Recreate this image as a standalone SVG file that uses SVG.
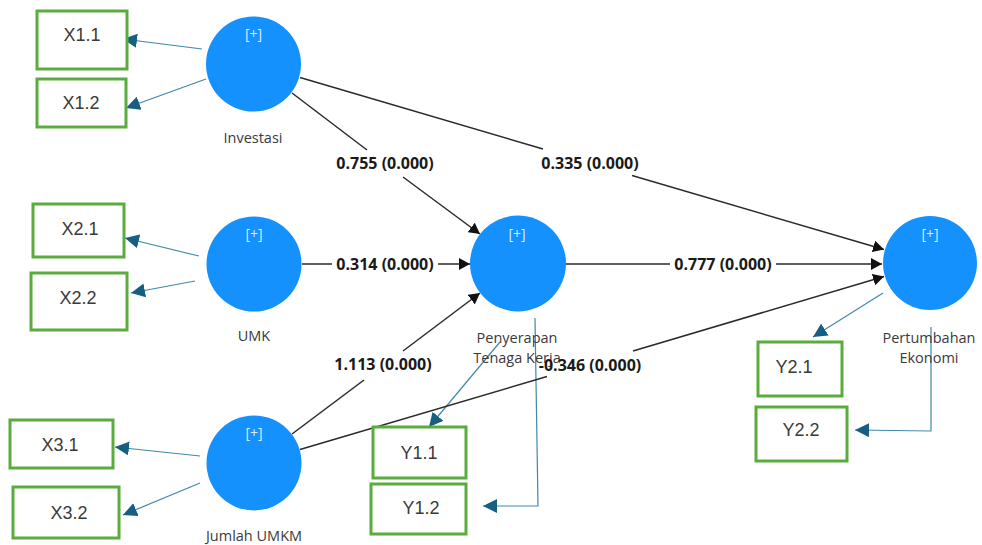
<svg xmlns="http://www.w3.org/2000/svg" width="982" height="545" viewBox="0 0 982 545">
<defs>
<style>
.box{fill:#fff;stroke:#5aac3c;stroke-width:3}
.bt{font-family:"Liberation Sans",Arial,sans-serif;font-size:18px;fill:#3a3a3a;text-anchor:middle;dominant-baseline:central}
.lv{fill:#1591fd}
.plus{font-family:"Open Sans","Liberation Sans",sans-serif;font-size:14px;fill:#dcecff;text-anchor:middle;dominant-baseline:central}
.nl{font-family:"Open Sans","Liberation Sans",sans-serif;font-size:14.5px;fill:#3a3a3a;text-anchor:middle;dominant-baseline:central}
.ind{stroke:#3f88aa;stroke-width:1.2;fill:none}
.str{stroke:#2a2a2a;stroke-width:1.5;fill:none}
.pl{font-family:"Open Sans","Liberation Sans",sans-serif;font-size:16px;font-weight:700;fill:#1a1a1a;text-anchor:middle;dominant-baseline:central}
</style>
<marker id="ai" markerUnits="userSpaceOnUse" markerWidth="15" markerHeight="14" refX="14" refY="7" orient="auto">
<path d="M0,0 L14,7 L0,14 z" fill="#175f82"/>
</marker>
<marker id="as" markerUnits="userSpaceOnUse" markerWidth="12" markerHeight="12" refX="11" refY="6" orient="auto">
<path d="M0,0 L11,6 L0,12 z" fill="#111"/>
</marker>
</defs>
<rect width="982" height="545" fill="#fff"/>

<g id="connectors">
<line class="ind" x1="202" y1="49" x2="123" y2="39" marker-end="url(#ai)"/>
<line class="ind" x1="206" y1="79" x2="126" y2="108" marker-end="url(#ai)"/>
<line class="ind" x1="199" y1="256" x2="125" y2="238" marker-end="url(#ai)"/>
<line class="ind" x1="195" y1="281" x2="131" y2="293" marker-end="url(#ai)"/>
<line class="ind" x1="200" y1="456" x2="115" y2="447" marker-end="url(#ai)"/>
<line class="ind" x1="200" y1="483" x2="123" y2="515" marker-end="url(#ai)"/>
<line class="ind" x1="500" y1="342" x2="429" y2="427" marker-end="url(#ai)"/>
<polyline class="ind" points="535,318 538,506 483,506" marker-end="url(#ai)"/>
<line class="ind" x1="883" y1="293" x2="813" y2="337" marker-end="url(#ai)"/>
<polyline class="ind" points="931,327 931,431 855,430" marker-end="url(#ai)"/>
<line class="str" x1="292" y1="93" x2="367" y2="150"/>
<line class="str" x1="403" y1="177" x2="480" y2="234" marker-end="url(#as)"/>
<line class="str" x1="300" y1="77.5" x2="543" y2="149"/>
<line class="str" x1="632" y1="175.5" x2="884" y2="249.5" marker-end="url(#as)"/>
<line class="str" x1="302" y1="264" x2="332" y2="264"/>
<line class="str" x1="438" y1="264" x2="470" y2="264" marker-end="url(#as)"/>
<line class="str" x1="566" y1="264" x2="670" y2="264"/>
<line class="str" x1="776" y1="264" x2="882" y2="264" marker-end="url(#as)"/>
<line class="str" x1="292" y1="434" x2="364" y2="380"/>
<line class="str" x1="403" y1="351" x2="480" y2="293" marker-end="url(#as)"/>
<line class="str" x1="300" y1="449.5" x2="547" y2="376.5"/>
<line class="str" x1="633" y1="351" x2="884" y2="276.5" marker-end="url(#as)"/>
</g>

<g id="node-X1.1"><rect class="box" x="37" y="11" width="90" height="58"/><text class="bt" x="82" y="35">X1.1</text></g>
<g id="node-X1.2"><rect class="box" x="37" y="79" width="89" height="48"/><text class="bt" x="81" y="103">X1.2</text></g>
<g id="node-X2.1"><rect class="box" x="33" y="204" width="91" height="53"/><text class="bt" x="80" y="229">X2.1</text></g>
<g id="node-X2.2"><rect class="box" x="31" y="273" width="96" height="57"/><text class="bt" x="78" y="298">X2.2</text></g>
<g id="node-X3.1"><rect class="box" x="10" y="420" width="103" height="48"/><text class="bt" x="60" y="445">X3.1</text></g>
<g id="node-X3.2"><rect class="box" x="13" y="487" width="106" height="51"/><text class="bt" x="69" y="513">X3.2</text></g>
<g id="node-Y1.1"><rect class="box" x="373" y="427" width="93" height="51"/><text class="bt" x="419" y="453">Y1.1</text></g>
<g id="node-Y1.2"><rect class="box" x="371" y="484" width="95" height="50"/><text class="bt" x="421" y="508">Y1.2</text></g>
<g id="node-Y2.1"><rect class="box" x="758" y="342" width="84" height="54"/><text class="bt" x="794" y="367">Y2.1</text></g>
<g id="node-Y2.2"><rect class="box" x="756" y="407" width="91" height="54"/><text class="bt" x="801" y="430">Y2.2</text></g>

<g id="node-Investasi"><circle class="lv" cx="253.5" cy="64" r="47.5"/><text class="plus" x="253.5" y="33">[+]</text><text class="nl" x="253" y="137">Investasi</text></g>
<g id="node-UMK"><circle class="lv" cx="254" cy="264" r="47.5"/><text class="plus" x="254" y="233">[+]</text><text class="nl" x="254" y="335">UMK</text></g>
<g id="node-JumlahUMKM"><circle class="lv" cx="254" cy="463" r="47.5"/><text class="plus" x="254" y="432">[+]</text><text class="nl" x="254" y="535">Jumlah UMKM</text></g>
<g id="node-Penyerapan"><circle class="lv" cx="518" cy="263.5" r="48"/><text class="plus" x="517" y="233">[+]</text><text class="nl" x="517" y="337">Penyerapan</text><text class="nl" x="517" y="357">Tenaga Kerja</text></g>
<g id="node-Pertumbahan"><circle class="lv" cx="930" cy="263" r="47"/><text class="plus" x="930" y="233">[+]</text><text class="nl" x="929" y="337">Pertumbahan</text><text class="nl" x="929" y="357">Ekonomi</text></g>

<g id="path-labels">
<text class="pl" x="385" y="163">0.755 (0.000)</text>
<text class="pl" x="590" y="163">0.335 (0.000)</text>
<text class="pl" x="385" y="264">0.314 (0.000)</text>
<text class="pl" x="723" y="264">0.777 (0.000)</text>
<text class="pl" x="383" y="364">1.113 (0.000)</text>
<text class="pl" x="590" y="365">-0.346 (0.000)</text>
</g>
</svg>
